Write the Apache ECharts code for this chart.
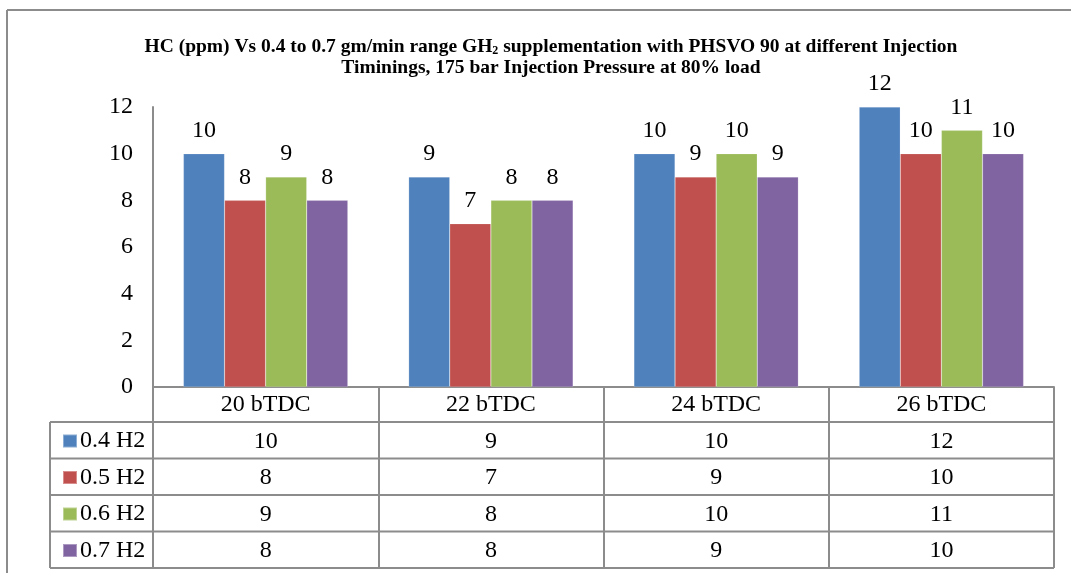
<!DOCTYPE html>
<html><head><meta charset="utf-8">
<script src="https://cdn.jsdelivr.net/npm/echarts@6/dist/echarts.min.js"></script>
<style>html,body{margin:0;padding:0;background:#fff}#c{width:1071px;height:573px}</style>
</head><body><div id="c"></div>
<script>
var categories = ['20 bTDC', '22 bTDC', '24 bTDC', '26 bTDC'];
var seriesNames = ['0.4 H2', '0.5 H2', '0.6 H2', '0.7 H2'];
var h04 = [10, 9, 10, 12];
var h05 = [8, 7, 9, 10];
var h06 = [9, 8, 10, 11];
var h07 = [8, 8, 9, 10];
var yTicks = [0, 2, 4, 6, 8, 10, 12];
var colors = ['#4F81BD', '#C0504D', '#9BBB59', '#8064A2'];
var seriesData = [h04, h05, h06, h07];

var FONT = '"Liberation Serif", "Times New Roman", serif';
var FS = 24;
var LINE = '#8c8c8c';
var W = 1071, H = 573;
var gridLeft = 153, gridRight = 17, gridTop = 107, axisY = 387;
var tableLeft = 50, headerBottom = 422, rowH = 36.5;
var tableBottom = headerBottom + rowH * 4;

var chart = echarts.init(document.getElementById('c'), null, {renderer: 'canvas'});

var series = seriesData.map(function (d, i) {
  return {
    name: seriesNames[i], type: 'bar', data: d,
    barGap: '0%', barCategoryGap: '27%',
    itemStyle: {color: colors[i], borderColor: 'rgba(255,255,255,0.35)', borderWidth: 0.5},
    label: {show: true, position: 'top', distance: 11, color: '#000', fontFamily: FONT, fontSize: FS},
    emphasis: {disabled: true}
  };
});

chart.setOption({
  animation: false,
  backgroundColor: '#fff',
  title: {
    text: 'HC (ppm) Vs 0.4 to 0.7 gm/min range GH{sub|2} supplementation with PHSVO 90 at different Injection\nTiminings, 175 bar Injection Pressure at 80% load',
    left: 546, textAlign: 'center', top: 31,
    textStyle: {
      fontFamily: FONT, fontSize: 19.5, fontWeight: 'bold', color: '#000', lineHeight: 21,
      rich: {sub: {fontFamily: FONT, fontSize: 12, fontWeight: 'bold', color: '#000', padding: [8, 0, 0, 0]}}
    }
  },
  legend: {
    orient: 'vertical', left: 57, top: headerBottom + 2,
    itemWidth: 14, itemHeight: 13, itemGap: 12.5, icon: 'rect',
    textStyle: {fontFamily: FONT, fontSize: FS, lineHeight: 24, color: '#000', padding: [0, 0, 0, -2]},
    data: seriesNames, selectedMode: false
  },
  grid: {left: gridLeft, right: gridRight, top: gridTop, bottom: H - axisY, containLabel: false},
  xAxis: {
    type: 'category', data: categories,
    axisLine: {lineStyle: {color: LINE, width: 2}},
    axisTick: {show: true, length: tableBottom - axisY, lineStyle: {color: LINE, width: 2}},
    axisLabel: {color: '#000', fontFamily: FONT, fontSize: FS, margin: 6}
  },
  yAxis: {
    type: 'value', min: 0, max: 12, interval: 2,
    axisLine: {show: true, lineStyle: {color: LINE, width: 2}},
    axisTick: {show: false},
    splitLine: {show: false},
    axisLabel: {color: '#000', fontFamily: FONT, fontSize: FS, margin: 20,
      formatter: function (v) { return yTicks.indexOf(v) >= 0 ? String(v) : ''; }}
  },
  series: series
});

var gfx = [];
gfx.push({type: 'line', shape: {x1: 7, y1: 10, x2: W, y2: 10}, style: {stroke: LINE, lineWidth: 2}, silent: true});
gfx.push({type: 'line', shape: {x1: 7, y1: 10, x2: 7, y2: H}, style: {stroke: LINE, lineWidth: 2}, silent: true});
var tableRight = W - gridRight;
for (var r = 0; r <= 4; r++) {
  var y = headerBottom + r * rowH;
  gfx.push({type: 'line', shape: {x1: tableLeft, y1: y, x2: tableRight, y2: y}, style: {stroke: LINE, lineWidth: 2}, silent: true});
}
gfx.push({type: 'line', shape: {x1: tableLeft, y1: headerBottom, x2: tableLeft, y2: tableBottom}, style: {stroke: LINE, lineWidth: 2}, silent: true});
for (var s = 0; s < seriesData.length; s++) {
  for (var c = 0; c < categories.length; c++) {
    var cx = chart.convertToPixel({xAxisIndex: 0}, categories[c]);
    var cy = headerBottom + rowH * s + rowH / 2 + 1;
    gfx.push({type: 'text', x: cx, y: cy, silent: true,
      style: {text: String(seriesData[s][c]), fill: '#000', font: FS + 'px ' + FONT, align: 'center', verticalAlign: 'middle'}});
  }
}
chart.setOption({graphic: gfx});
</script>
</body></html>
